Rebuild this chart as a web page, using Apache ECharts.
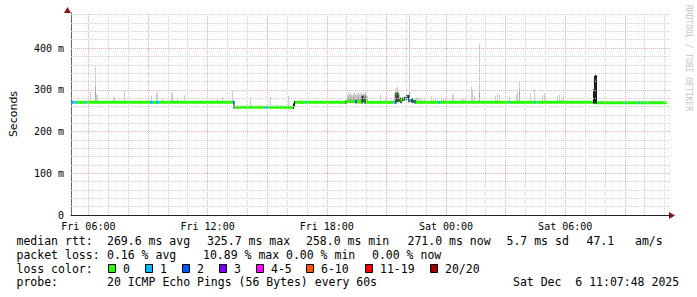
<!DOCTYPE html>
<html><head><meta charset="utf-8">
<script src="https://cdn.jsdelivr.net/npm/echarts@6/dist/echarts.min.js"></script>
<style>html,body{margin:0;padding:0;background:#fff}#c{width:697px;height:297px}</style>
</head><body><div id="c"></div>
<script>
// ---- data (time in minutes since Fri 00:00, values in ms) ----
const X_MIN = 307.5, X_MAX = 2116.5, Y_MAX = 491;
const xTickValues = [360, 720, 1080, 1440, 1800];
const xTickLabels = ['Fri 06:00', 'Fri 12:00', 'Fri 18:00', 'Sat 00:00', 'Sat 06:00'];
const yTickValues = [0, 100, 200, 300, 400];
const yTickLabels = ['0', '100 m', '200 m', '300 m', '400 m'];

const lossLabels = ['0', '1', '2', '3', '4-5', '6-10', '11-19', '20/20'];
const lossColors = ['#26ff00', '#00b8ff', '#0059ff', '#7e00ff', '#ff00ff', '#ff5500', '#ff0000', '#a10000'];

// median RTT runs: start time, value, lost pings
const medStart = [309,318,321,327,348,354,546,555,564,573,795,801,894,903,981,984,1014,1017,1140,1164,1170,1188,1191,1197,1281,1287,1290,1296,1302,1311,1317,1323,1329,1338,1342,1348,1416,1422,1632,1636,1707,1713,1887,1891,1895,1980,1984,2022,2028,2049,2052];
const medValue = [270,270,270,270,270,270,270,270,270,270,270,258,258,258,264,270,270,270,272,272,271,282,276,270,270,270,290,275,276,278,280,284,274,273,272,270,270,270,270,270,270,270,298,324,269,269,269,269,269,269,269];
const medLoss  = [1,0,1,0,1,0,1,0,1,0,1,0,1,0,0,0,1,0,0,1,0,0,0,0,1,0,0,0,0,0,1,2,1,0,1,0,1,0,1,0,1,0,1,1,0,1,0,1,0,1,0];
const medEnd = 2106;

// smoke (ping spread): time, low, high, density shade
const smokeTime = [366,381,381,384,387,435,438,468,549,564,567,582,609,612,627,648,747,765,795,849,909,930,939,963,
  1140,1143,1146,1149,1152,1155,1158,1161,1164,1167,1170,1173,1176,1179,1182,1185,1188,1191,1194,1197,1200,
  1140,1143,1146,1149,1152,1155,1158,1161,1164,1167,1170,1173,1176,1179,1182,1185,1188,1191,1194,1197,1200,
  1188,1194,1242,1257,1284,1287,1290,1293,1296,1299,1290,1293,1296,1302,1305,1329,1329,1338,
  1347,1350,1353,1356,1362,1368,1374,1395,1401,1407,1425,1431,1437,1459,1462,1485,1491,1497,1516,1519,1526,1540,1540,
  1587,1593,1599,1631,1650,1653,1659,1659,1695,1707,1731,1737,1740,1776,1782,1788,1794,1887,1890,1893];
const smokeLow = [270,270,270,270,270,270,270,270,270,270,270,270,270,270,270,270,270,270,270,258,258,258,258,258,
  270,270,270,270,270,270,270,270,270,270,270,270,270,270,270,270,270,270,270,270,270,
  268,268,268,268,268,268,268,268,268,268,268,268,268,268,268,268,268,268,268,268,268,
  270,270,270,270,270,270,270,270,270,270,270,270,270,268,268,270,270,268,
  270,270,270,270,270,270,270,270,270,270,270,270,270,270,270,270,270,270,270,270,270,270,270,
  270,270,270,270,270,270,270,270,270,270,270,270,270,270,270,270,270,267,267,267];
const smokeHigh = [294,355,307,290,287,283,283,298,287,290,295,280,293,293,283,287,281,283,298,279,283,264,263,285,
  288,293,290,295,289,287,292,294,290,288,292,295,289,291,294,288,293,290,296,288,285,
  280,283,279,285,281,278,283,284,280,279,282,286,280,282,285,279,284,283,288,282,276,
  287,285,289,283,292,300,306,306,296,290,291,291,288,282,280,480,295,280,
  280,282,279,281,282,278,280,285,283,280,283,281,279,288,291,280,278,280,309,300,285,410,295,
  286,291,288,283,290,295,319,300,292,301,288,291,285,285,288,283,287,333,336,334];
const smokeShade = [0,0,1,0,0,0,0,0,0,0,0,0,0,0,0,0,0,0,0,0,0,0,0,0,
  0,0,0,0,0,0,0,0,0,0,0,0,0,0,0,0,0,0,0,0,0,
  1,1,1,1,1,1,1,1,1,1,1,1,1,1,1,1,1,1,1,1,1,
  2,2,0,0,0,0,0,0,0,0,2,2,2,2,2,0,1,2,
  0,0,0,0,0,0,0,0,0,0,0,0,0,0,0,0,0,0,0,0,0,0,1,
  0,0,0,0,0,0,0,1,0,0,0,0,0,0,0,0,0,3,3,3];
const shadeColors = ['#cdcdcd', '#a8a8a8', '#626262', '#1e1e1e'];

// ---- build ----
function lossBin(n){ if(n<=3) return n; if(n<=5) return 4; if(n<=10) return 5; if(n<=19) return 6; return 7; }
const medData = medStart.map((t,i)=>[t, i+1<medStart.length?medStart[i+1]:medEnd, medValue[i], lossBin(medLoss[i]), i>0?medValue[i-1]:medValue[i]]);
const smokeData = smokeTime.map((t,i)=>[t, smokeLow[i], smokeHigh[i], smokeShade[i]])
  .map((d,i)=>({d,i})).sort((a,b)=>(a.d[3]-b.d[3])||(a.i-b.i)).map(o=>o.d);

const MINOR = '#d0d0d0', MAJOR = '#eab0b0';
const gridLines = [];
for (let v=20; v<=480; v+=20) gridLines.push({yAxis:v, lineStyle:{color: v%100===0?MAJOR:MINOR, type:[1,1], width:1}});
for (let t=360; t<=2100; t+=60) gridLines.push({xAxis:t, lineStyle:{color: t%180===0?MAJOR:MINOR, type:[1,1], width:1}});

const MONO = 'DejaVu Sans Mono';
const g = [];
function txt(x,y,s){ g.push({type:'text', x:x, y:y, style:{text:s, fontFamily:MONO, fontSize:11.5, fill:'#000', verticalAlign:'middle'}}); }
txt(16.5,241,'median rtt:'); txt(107,241,'269.6 ms avg'); txt(207,241,'325.7 ms max'); txt(306,241,'258.0 ms min');
txt(407.5,241,'271.0 ms now'); txt(506.5,241,'5.7 ms sd'); txt(586.5,241,'47.1'); txt(635,241,'am/s');
txt(16.5,255,'packet loss:'); txt(107,255,'0.16 % avg'); txt(203,255,'10.89 % max'); txt(286,255,'0.00 % min'); txt(372,255,'0.00 % now');
txt(16.5,268.5,'loss color:');
const boxX = [108.5,145.5,182.5,219.5,256.5,306.5,365.5,430.5];
lossLabels.forEach((l,i)=>{
  g.push({type:'rect', shape:{x:boxX[i], y:264.5, width:7, height:8}, style:{fill:lossColors[i], stroke:'#000', lineWidth:1}});
  txt(boxX[i]+14.5, 268.5, l);
});
txt(16.5,282,'probe:'); txt(107,282,'20 ICMP Echo Pings (56 Bytes) every 60s'); txt(513,282,'Sat Dec  6 11:07:48 2025');
g.push({type:'text', x:692, y:5, rotation:-Math.PI/2, style:{text:'RRDTOOL / TOBI OETIKER', fontFamily:MONO, fontSize:8, fill:'#c4c4c4', verticalAlign:'top'}});
// axis arrows
g.push({type:'polygon', shape:{points:[[64,13],[71,13],[67.5,7]]}, style:{fill:'#8b1010'}});
g.push({type:'polygon', shape:{points:[[669,212],[669,219],[675,215.5]]}, style:{fill:'#8b1010'}});

const chart = echarts.init(document.getElementById('c'), null, {renderer:'svg', width:697, height:297});
chart.setOption({
  animation:false,
  backgroundColor:'#ffffff',
  grid:{left:67, top:13, width:603, height:202, containLabel:false},
  xAxis:{type:'value', min:X_MIN, max:X_MAX, splitLine:{show:false},
    axisLine:{show:true, lineStyle:{color:'#222', width:1}},
    axisTick:{show:false},
    axisLabel:{customValues:xTickValues, formatter:v=>xTickLabels[xTickValues.indexOf(v)]||'', fontFamily:MONO, fontSize:10, color:'#000', margin:6}},
  yAxis:{type:'value', min:0, max:484, splitLine:{show:false},
    name:'Seconds', nameLocation:'middle', nameGap:52, nameTextStyle:{fontFamily:'DejaVu Sans', fontSize:11, color:'#000'},
    axisLine:{show:true, lineStyle:{color:'#666', width:1}},
    axisTick:{show:false},
    axisLabel:{customValues:yTickValues, formatter:v=>yTickLabels[yTickValues.indexOf(v)]||'', fontFamily:MONO, fontSize:10, color:'#000', margin:7}},
  graphic:g,
  series:[
    {type:'custom', z:1, silent:true, data:[], renderItem:()=>null,
     markLine:{silent:true, symbol:['none','none'], label:{show:false}, data:gridLines, animation:false}},
    {type:'custom', z:2, silent:true, data:smokeData, encode:{x:0, y:[1,2]},
     renderItem:function(params, api){
       const t=api.value(0), lo=api.value(1), hi=api.value(2), s=api.value(3);
       const p0=api.coord([t,lo]), p1=api.coord([t,hi]);
       const x=Math.round(p0[0]);
       return {type:'rect', shape:{x:x, y:p1[1], width:1, height:p0[1]-p1[1]}, style:{fill:shadeColors[s]}};
     }},
    {type:'custom', z:3, silent:true, data:medData, encode:{x:[0,1], y:2},
     renderItem:function(params, api){
       const t0=api.value(0), t1=api.value(1), v=api.value(2), b=api.value(3), pv=api.value(4);
       const a=api.coord([t0,v]), c=api.coord([t1,v]);
       const ch=[{type:'rect', shape:{x:a[0], y:a[1]-1.5, width:c[0]-a[0], height:3}, style:{fill:lossColors[b]}}];
       if (pv!==v){
         const p=api.coord([t0,pv]);
         const top=Math.min(p[1],a[1])-1.5, bot=Math.max(p[1],a[1])+1.5;
         ch.push({type:'rect', shape:{x:a[0]-1, y:top, width:1, height:bot-top}, style:{fill:'#1e1e1e'}});
       }
       return {type:'group', children:ch};
     }}
  ]
});
</script></body></html>
